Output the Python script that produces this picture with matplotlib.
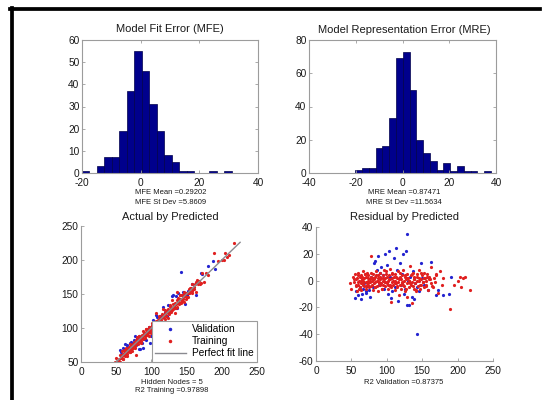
import numpy as np
import matplotlib.pyplot as plt
from matplotlib.lines import Line2D

plt.rcParams['font.family'] = ['Liberation Sans', 'DejaVu Sans']
plt.rcParams['axes.unicode_minus'] = False

# histogram bin counts (20 bins each)
mfe_range = (-20.0, 31.0)
mfe_counts = [1, 0, 3, 7, 7, 19, 37, 55, 46, 31, 19, 8, 5, 1, 1, 0, 0, 1, 0, 1]
mre_range = (-20.2, 37.8)
mre_counts = [2, 3, 3, 15, 16, 33, 69, 73, 50, 20, 12, 7, 2, 6, 1, 4, 1, 1, 0, 1]

# training points: predicted value and residual
train_pred = [48, 50, 52, 54, 55, 56, 57, 58, 58, 59, 60, 60, 61, 62, 62, 63, 64, 64, 65, 66,
              66, 67, 68, 68, 69, 70, 70, 71, 72, 72, 73, 74, 74, 75, 76, 76, 77, 78, 78, 79,
              80, 80, 81, 82, 82, 83, 84, 84, 85, 86, 86, 87, 88, 88, 89, 90, 90, 91, 92, 92,
              93, 94, 94, 95, 96, 96, 97, 98, 98, 99, 100, 100, 101, 102, 103, 104, 104, 105, 106, 106,
              107, 108, 108, 109, 110, 111, 112, 112, 113, 114, 115, 116, 116, 117, 118, 119, 120, 120, 121, 122,
              123, 124, 124, 125, 126, 127, 128, 128, 129, 130, 131, 132, 133, 134, 134, 135, 136, 137, 138, 138,
              139, 140, 141, 142, 143, 144, 145, 146, 147, 148, 149, 150, 151, 152, 153, 154, 155, 156, 157, 158,
              159, 160, 162, 163, 164, 166, 168, 170, 172, 175, 178, 180, 189, 195, 200, 203, 205, 207, 210, 218,
              53, 57, 59, 61, 63, 65, 67, 69, 71, 73, 75, 77, 79, 81, 83, 85, 87, 89, 91, 93,
              95, 97, 99, 101, 103, 105, 107, 109, 111, 113, 115, 117, 119, 121, 123, 125, 127, 129, 131, 133,
              135, 137, 139, 141, 143, 145, 147, 149, 151, 153, 155, 157, 161, 165, 169]
train_res = [-2, -6, 3, -1, 5, -4, 1, -8, 2, -3, 6, -1, 0, -5, 3, -2, 4, -7, 1, -3,
             7, 0, -4, 2, 5, -1, -6, 3, -2, 6, 0, -3, 4, -5, 1, -1, 3, -4, 18, 0,
             2, -7, 5, -2, 1, -5, 3, -1, 7, 0, -4, 2, -8, 4, -1, 1, -3, 6, -2, 2,
             -6, 0, 4, -3, 8, 1, -4, 2, -1, 5, -2, 3, -6, 0, 4, -3, 9, 1, -5, -16,
             2, -1, 6, -3, 3, -7, 0, 5, -2, 2, -4, 7, -1, -11, 3, -3, 1, -6, 4, -2,
             8, 0, -4, 3, -8, 1, 5, -2, -12, 2, -5, 0, 11, -3, 4, -1, -17, 6, -6, 1,
             3, -2, -8, 5, 0, -4, 2, 8, -6, 1, -3, 4, -1, 6, -5, 2, 0, -3, 5, -7,
             1, 3, -2, 10, -4, 2, -1, 4, -9, 7, -3, 2, -21, -3, 0, 3, -5, 2, 3, -7,
             1, -3, 4, -6, 0, 3, -2, 5, -4, 2, -1, 6, -3, 1, -5, 4, 0, -2, 3, -6,
             2, -1, 7, -3, 1, -4, 5, 0, -2, 3, -5, 1, 6, -1, -3, 4, -6, 2, 0, -2,
             5, -4, 1, -7, 3, 0, -3, 6, -1, 2, -4, 3, 1, -5, 5]

# validation points: predicted value and residual
val_pred = [55, 57, 60, 62, 63, 65, 66, 68, 70, 71, 72, 75, 76, 78, 80, 82, 84, 86, 88, 89,
            90, 92, 94, 96, 98, 100, 102, 103, 105, 106, 108, 110, 112, 113, 115, 116, 118, 120, 122, 123,
            124, 126, 127, 128, 129, 130, 131, 133, 135, 137, 138, 140, 142, 143, 145, 148, 150, 152, 158, 163,
            170, 172, 180, 188, 190]
val_res = [-13, -8, -11, -5, -14, -10, -6, -2, -8, -9, -4, -7, -12, 3, -5, 13, 15, 8, 18, -3,
           6, 10, 4, -6, 20, 12, -10, 22, 3, -13, -8, 17, -5, 24, 8, -15, 13, -3, 5, 20,
           -10, -6, 22, 35, -18, 0, -18, 3, -12, 7, -14, -2, -40, -5, -8, 13, 2, -3, -7, 14,
           -11, -7, -11, -10, 3]

W, H = 543, 400
BAR = '#00008c'
GRID = '#9c9c9c'
BLUE = '#2424d0'
RED = '#e02020'


def box(left, top, right, bottom):
    # pixel box -> figure fraction
    return [left / W, 1 - bottom / H, (right - left) / W, (bottom - top) / H]


def label(x, y, s, size):
    fig.text(x / W, 1 - y / H, s, ha='center', va='center', fontsize=size, color='#1a1a1a')


def style(ax, full_box):
    for s in ax.spines.values():
        s.set_color(GRID)
        s.set_linewidth(0.8)
    if not full_box:
        ax.spines['top'].set_visible(False)
        ax.spines['right'].set_visible(False)
    ax.tick_params(direction='in', length=2.5, width=0.6, color=GRID, labelsize=7.3,
                   labelcolor='#1a1a1a', top=full_box, right=full_box)
    ax.tick_params(axis='x', pad=3.4)
    ax.tick_params(axis='y', pad=1.8)


fig = plt.figure(figsize=(W / 100, H / 100), dpi=100)

# top left: MFE histogram
ax1 = fig.add_axes(box(82, 40, 258, 173))
edges = np.linspace(mfe_range[0], mfe_range[1], len(mfe_counts) + 1)
ax1.bar(edges[:-1], mfe_counts, width=np.diff(edges), align='edge',
        color=BAR, edgecolor='#00004a', linewidth=0.5)
ax1.set_xlim(-20, 40)
ax1.set_ylim(0, 60)
ax1.set_xticks([-20, 0, 20, 40])
ax1.set_yticks(range(0, 61, 10))
style(ax1, True)

# top right: MRE histogram
ax2 = fig.add_axes(box(309, 40, 496, 173))
edges = np.linspace(mre_range[0], mre_range[1], len(mre_counts) + 1)
ax2.bar(edges[:-1], mre_counts, width=np.diff(edges), align='edge',
        color=BAR, edgecolor='#00004a', linewidth=0.5)
ax2.set_xlim(-40, 40)
ax2.set_ylim(0, 80)
ax2.set_xticks([-40, -20, 0, 20, 40])
ax2.set_yticks(range(0, 81, 20))
style(ax2, True)

tp = np.array(train_pred)
tr = np.array(train_res)
vp = np.array(val_pred)
vr = np.array(val_res)

# bottom left: actual by predicted
ax3 = fig.add_axes(box(81, 226, 257, 362))
ax3.plot(vp, vp - vr, 'o', color=BLUE, ms=2.3, mew=0, label='Validation')
ax3.plot(tp, tp - tr, 'o', color=RED, ms=2.3, mew=0, label='Training')
lo = min(tp.min(), vp.min()) - 3
hi = max((tp - tr).max(), (vp - vr).max()) + 1
ax3.plot([lo, hi], [lo, hi], color='#8a8a90', lw=1.0, label='Perfect fit line')
ax3.set_xlim(0, 250)
ax3.set_ylim(50, 250)
ax3.set_xticks(range(0, 251, 50))
ax3.set_yticks(range(50, 251, 50))
style(ax3, False)
hs = [Line2D([], [], ls='none', marker='.', color=BLUE, ms=3),
      Line2D([], [], ls='none', marker='.', color=RED, ms=3),
      Line2D([], [], color='#8a8a90', lw=1.0)]
leg = ax3.legend(hs, ['Validation', 'Training', 'Perfect fit line'], loc='lower right',
                 borderaxespad=0, fontsize=7.3, fancybox=False, framealpha=1,
                 handlelength=3.0, labelspacing=0.2, borderpad=0.35, handletextpad=0.6)
leg.get_frame().set_edgecolor(GRID)
leg.get_frame().set_linewidth(0.8)

# bottom right: residual by predicted
ax4 = fig.add_axes(box(316, 227, 493, 361))
ax4.plot(vp, vr, 'o', color=BLUE, ms=2.3, mew=0)
ax4.plot(tp, tr, 'o', color=RED, ms=2.3, mew=0)
ax4.set_xlim(0, 250)
ax4.set_ylim(-60, 40)
ax4.set_xticks(range(0, 251, 50))
ax4.set_yticks(range(-60, 41, 20))
style(ax4, False)

# titles and stat lines
label(170, 29, 'Model Fit Error (MFE)', 8)
label(404, 30, 'Model Representation Error (MRE)', 8)
label(170, 217, 'Actual by Predicted', 8)
label(404, 217, 'Residual by Predicted', 8)
label(171, 193, 'MFE Mean =0.29202', 5.5)
label(171, 203, 'MFE St Dev =5.8609', 5.5)
label(404, 193, 'MRE Mean =0.87471', 5.5)
label(404, 203, 'MRE St Dev =11.5634', 5.5)
label(172, 382, 'Hidden Nodes = 5', 5.5)
label(172, 391, 'R2 Training =0.97898', 5.5)
label(404, 382, 'R2 Validation =0.87375', 5.5)

# black frame lines along the top and left edge
fig.add_artist(Line2D([10 / W, 540 / W], [1 - 9 / H, 1 - 9 / H], color='black', lw=2.7))
fig.add_artist(Line2D([12 / W, 12 / W], [1 - 7.5 / H, 0], color='black', lw=2.7))

fig.savefig('out.png', dpi=100)
